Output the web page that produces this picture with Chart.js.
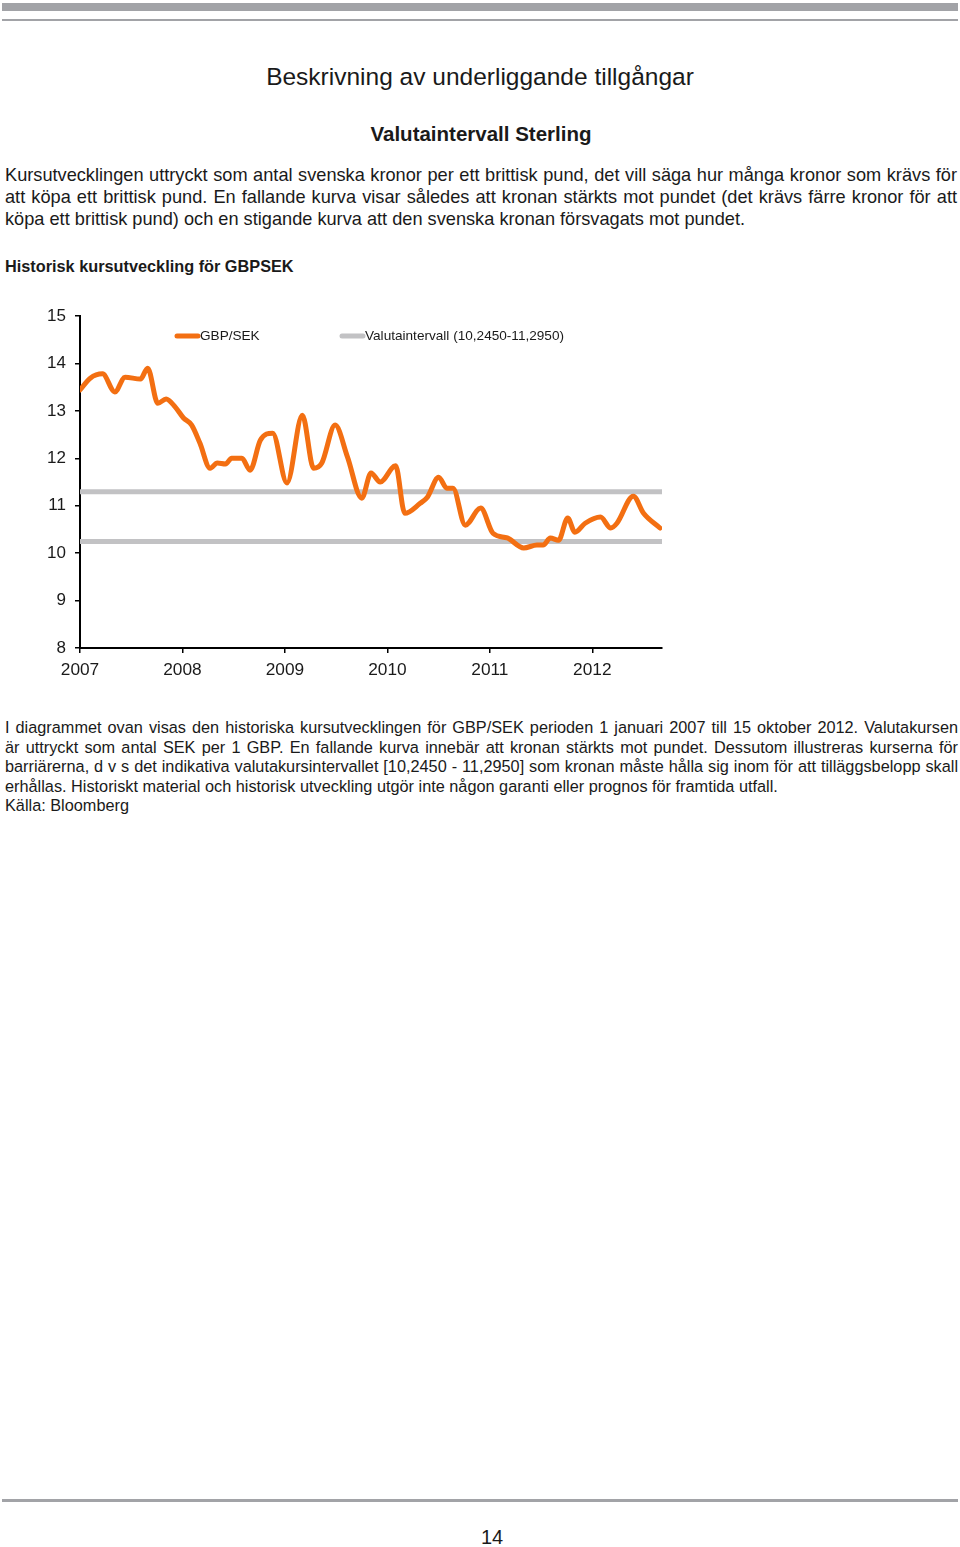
<!DOCTYPE html>
<html lang="sv">
<head>
<meta charset="utf-8">
<title>Valutaintervall Sterling</title>
<script src="https://cdn.jsdelivr.net/npm/chart.js"></script>
<style>
  body { margin: 0; background: #fff; font-family: "Liberation Sans", Arial, sans-serif; color: #1a1a1a; }
  #page { position: relative; width: 960px; height: 1547px; overflow: hidden; }
  .rule { position: absolute; left: 2px; width: 956px; background: #a2a3a7; }
  .abs { position: absolute; white-space: nowrap; }
  .lines div { text-align: justify; text-align-last: justify; white-space: nowrap; }
  .lines div.last { text-align-last: left; }
  #chartBox { position: absolute; left: 0; top: 290px; }
</style>
</head>
<body>
<div id="page">
  <div class="rule" style="top:3px;height:8px;"></div>
  <div class="rule" style="top:19px;height:2px;"></div>

  <div class="abs" style="top:63px;left:0;width:960px;text-align:center;font-size:24.5px;">Beskrivning av underliggande tillgångar</div>
  <div class="abs" style="top:122px;left:0;width:962px;text-align:center;font-size:20.5px;font-weight:bold;">Valutaintervall Sterling</div>

  <div class="abs lines" style="top:164px;left:5px;width:952px;font-size:18.2px;line-height:22px;">
    <div>Kursutvecklingen uttryckt som antal svenska kronor per ett brittisk pund, det vill säga hur många kronor som krävs för</div>
    <div>att köpa ett brittisk pund. En fallande kurva visar således att kronan stärkts mot pundet (det krävs färre kronor för att</div>
    <div class="last">köpa ett brittisk pund) och en stigande kurva att den svenska kronan försvagats mot pundet.</div>
  </div>

  <div class="abs" style="top:257px;left:5px;font-size:16.3px;font-weight:bold;">Historisk kursutveckling för GBPSEK</div>

  <div id="chartBox"><canvas id="fxChart" width="700" height="400"></canvas></div>

  <div class="abs lines" style="top:718px;left:5px;width:953px;font-size:16.3px;line-height:19.5px;">
    <div>I diagrammet ovan visas den historiska kursutvecklingen för GBP/SEK perioden 1 januari 2007 till 15 oktober 2012. Valutakursen</div>
    <div>är uttryckt som antal SEK per 1 GBP. En fallande kurva innebär att kronan stärkts mot pundet. Dessutom illustreras kurserna för</div>
    <div>barriärerna, d v s det indikativa valutakursintervallet [10,2450 - 11,2950] som kronan måste hålla sig inom för att tilläggsbelopp skall</div>
    <div class="last">erhållas. Historiskt material och historisk utveckling utgör inte någon garanti eller prognos för framtida utfall.</div>
    <div class="last">Källa: Bloomberg</div>
  </div>

  <div class="rule" style="top:1499px;height:3px;"></div>
  <div class="abs" style="top:1526px;left:462px;width:60px;text-align:center;font-size:20px;font-family:'Liberation Sans Narrow','Liberation Sans',Arial,sans-serif;">14</div>
</div>

<script>
// GBP/SEK (decimal year -> SEK per GBP)
const rateTimes = [
  2007.00, 2007.10, 2007.22, 2007.34, 2007.44, 2007.59, 2007.66, 2007.76, 2007.84, 2007.93,
  2008.01, 2008.09, 2008.17, 2008.27, 2008.34, 2008.42, 2008.48, 2008.58, 2008.66, 2008.76,
  2008.88, 2009.02, 2009.17, 2009.28, 2009.36, 2009.49, 2009.61, 2009.75, 2009.84, 2009.93,
  2010.08, 2010.17, 2010.32, 2010.39, 2010.50, 2010.58, 2010.64, 2010.76, 2010.91, 2011.03,
  2011.17, 2011.33, 2011.46, 2011.52, 2011.59, 2011.67, 2011.76, 2011.83, 2011.93, 2012.08,
  2012.18, 2012.24, 2012.40, 2012.50, 2012.66
];
const rateValues = [
  13.44, 13.69, 13.78, 13.40, 13.71, 13.67, 13.90, 13.16, 13.25, 13.08,
  12.85, 12.70, 12.32, 11.79, 11.90, 11.88, 12.00, 12.00, 11.75, 12.38,
  12.53, 11.48, 12.91, 11.79, 11.90, 12.70, 12.03, 11.16, 11.69, 11.50,
  11.84, 10.84, 11.05, 11.18, 11.60, 11.37, 11.37, 10.59, 10.95, 10.42,
  10.32, 10.11, 10.17, 10.17, 10.32, 10.27, 10.74, 10.44, 10.63, 10.76,
  10.53, 10.63, 11.20, 10.84, 10.53
];

// barriärer
const barrierLow = 10.245;
const barrierHigh = 11.295;

// axlar
const xMin = 2007;
const xMax = 2012.68;
const xTickYears = [2007, 2008, 2009, 2010, 2011, 2012];
const yMin = 8;
const yMax = 15;

const ORANGE = '#f36f12';
const GREY = '#c2c2c4';
const FONT = '"Liberation Sans", Arial, sans-serif';

// egen legend inne i diagrammet
const legendPlugin = {
  id: 'insideLegend',
  afterDraw(chart) {
    const ctx = chart.ctx;
    const area = chart.chartArea;
    const seen = new Set();
    const items = chart.data.datasets.filter(ds => {
      if (seen.has(ds.label)) return false;
      seen.add(ds.label);
      return true;
    });
    const offsets = [95, 260];
    const y = area.top + 20;
    ctx.save();
    ctx.font = '13.6px ' + FONT;
    ctx.textBaseline = 'middle';
    items.forEach((ds, i) => {
      const x = area.left + offsets[i];
      ctx.strokeStyle = ds.borderColor;
      ctx.lineWidth = 5;
      ctx.lineCap = 'round';
      ctx.beginPath();
      ctx.moveTo(x + 2, y);
      ctx.lineTo(x + 23, y);
      ctx.stroke();
      ctx.fillStyle = '#1a1a1a';
      ctx.fillText(ds.label, x + 25, y);
    });
    ctx.restore();
  }
};

const rateData = rateTimes.map((t, i) => ({ x: t, y: rateValues[i] }));
const barrierLine = v => [{ x: xMin, y: v }, { x: xMax, y: v }];

new Chart(document.getElementById('fxChart'), {
  type: 'line',
  data: {
    datasets: [
      {
        label: 'GBP/SEK',
        data: rateData,
        borderColor: ORANGE,
        borderWidth: 5,
        pointRadius: 0,
        cubicInterpolationMode: 'monotone',
        borderCapStyle: 'round',
        borderJoinStyle: 'round',
        fill: false
      },
      {
        label: 'Valutaintervall (10,2450-11,2950)',
        data: barrierLine(barrierHigh),
        borderColor: GREY,
        borderWidth: 5,
        pointRadius: 0,
        fill: false
      },
      {
        label: 'Valutaintervall (10,2450-11,2950)',
        data: barrierLine(barrierLow),
        borderColor: GREY,
        borderWidth: 5,
        pointRadius: 0,
        fill: false
      }
    ]
  },
  options: {
    responsive: false,
    animation: false,
    layout: { padding: { top: 26, right: 38, bottom: 0, left: 0 } },
    plugins: {
      legend: { display: false },
      tooltip: { enabled: false }
    },
    scales: {
      x: {
        type: 'linear',
        min: xMin,
        max: xMax,
        afterBuildTicks: scale => { scale.ticks = xTickYears.map(v => ({ value: v })); },
        afterFit: scale => { scale.height = 42; },
        grid: { display: true, drawOnChartArea: false, drawTicks: true, tickLength: 5, color: '#000', lineWidth: 1.5 },
        border: { display: true, color: '#000', width: 2 },
        ticks: {
          padding: 7,
          maxRotation: 0,
          color: '#1a1a1a',
          font: { family: FONT, size: 17.3 },
          callback: v => String(v)
        }
      },
      y: {
        min: yMin,
        max: yMax,
        afterFit: scale => { scale.width = 80; },
        grid: { display: true, drawOnChartArea: false, drawTicks: true, tickLength: 5, color: '#000', lineWidth: 1.5 },
        border: { display: true, color: '#000', width: 2 },
        ticks: {
          stepSize: 1,
          padding: 9,
          color: '#1a1a1a',
          font: { family: FONT, size: 17 }
        }
      }
    }
  },
  plugins: [legendPlugin]
});
</script>
</body>
</html>
